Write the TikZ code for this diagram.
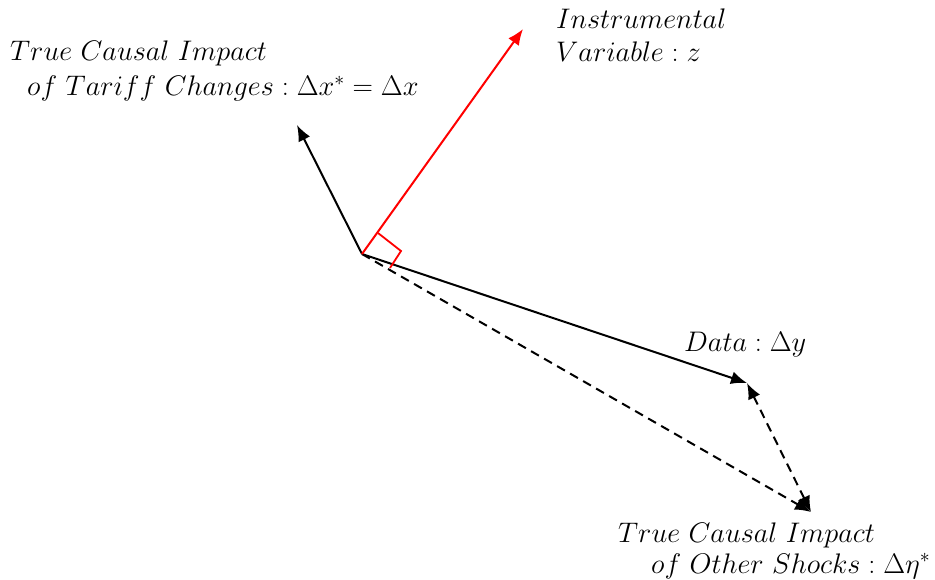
\RequirePackage{fix-cm}
\documentclass[tikz,border=0pt]{standalone}
\usetikzlibrary{arrows.meta}
\begin{document}
\begin{tikzpicture}[x=1pt,y=-1pt,
  lbl/.style={inner sep=0pt, anchor=base west, font=\fontsize{28.3}{34}\selectfont},
  tip/.style={Latex[length=16pt,width=13pt]},
  vec/.style={line width=2pt, -{Latex[length=16pt,width=13pt]}},
  dsh/.style={vec, dash pattern=on 9pt off 6pt},
  both/.style={line width=2pt, dash pattern=on 9pt off 6pt, {Latex[length=16pt,width=13pt]}-{Latex[length=16pt,width=13pt]}},
  rightmark/.style={red, line width=1.8pt}]
\useasboundingbox (0,0) rectangle (935,580);
\coordinate (O) at (362,254);
\coordinate (X) at (297,125);
\coordinate (Z) at (523,29);
\coordinate (Y) at (747,383);
\coordinate (E) at (811,512);
\coordinate (M1) at (378,233);
\coordinate (M2) at (401,251);
\coordinate (M3) at (390,268);
\draw[dsh] (O) -- (E);
\draw[both] (Y) -- (E);
\draw[vec] (O) -- (X);
\draw[vec] (O) -- (Y);
\draw[vec,red] (O) -- (Z);
\draw[rightmark] (M1) -- (M2) -- (M3);
\node[lbl] (t1) at (10,61) {$True\ Causal\ Impact$};
\node[lbl] (t2) at (27,96) {$of\ Tariff\ Changes:\Delta x^{*}=\Delta x$};
\node[lbl] (z1) at (556,29) {$Instrumental$};
\node[lbl] (z2) at (556,62) {$Variable:z$};
\node[lbl] (d1) at (684,352) {$Data:\Delta y$};
\node[lbl] (e1) at (618,542) {$True\ Causal\ Impact$};
\node[lbl] (e2) at (651,573) {$of\ Other\ Shocks:\Delta\eta^{*}$};
\end{tikzpicture}
\end{document}
